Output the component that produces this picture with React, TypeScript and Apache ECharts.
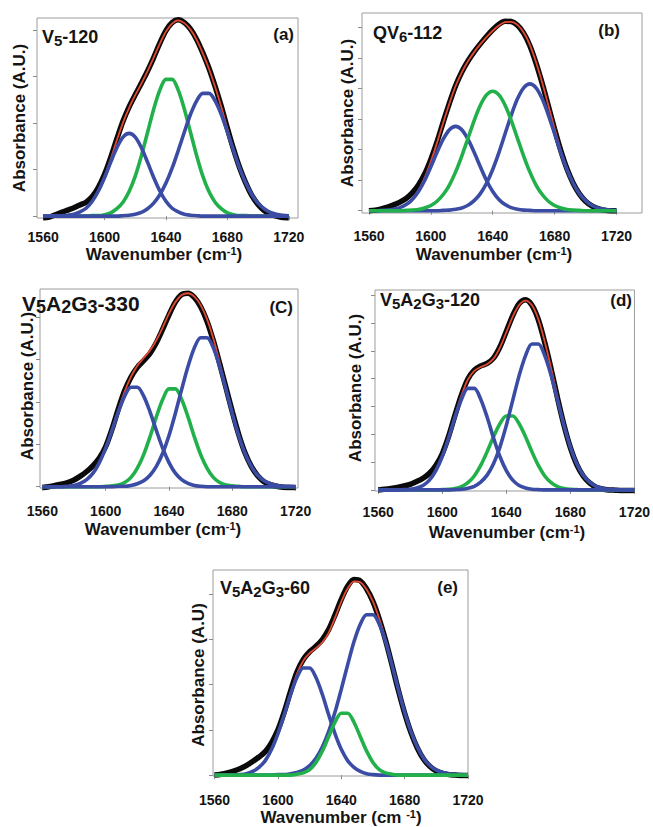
import React, { useEffect, useRef } from "react";
import * as echarts from "echarts";

const WAVENUMBER = [
  1560, 1564, 1568, 1572, 1576, 1580, 1584, 1588, 1592, 1596, 1600, 1604, 1608, 1612,
  1616, 1620, 1624, 1628, 1632, 1636, 1640, 1644, 1648, 1652, 1656, 1660, 1664, 1668,
  1672, 1676, 1680, 1684, 1688, 1692, 1696, 1700, 1704, 1708, 1712, 1716, 1720,
];
const X_TICKS = [1560, 1600, 1640, 1680, 1720];
const Y_TICKS_4 = [0, 1, 2, 3, 4];
const Y_TICKS_6 = [0, 1, 2, 3, 4, 5, 6];
const Y_TICKS_7 = [0, 1, 2, 3, 4, 5, 6, 7];

// (a) V5-120
const A_DATA = [-0.04,-0.02,0.03,0.08,0.13,0.18,0.24,0.30,0.42,0.62,0.90,1.26,1.66,2.04,2.35,2.61,2.86,3.12,3.41,3.72,3.99,4.16,4.22,4.16,4.02,3.80,3.51,3.18,2.79,2.36,1.89,1.44,1.04,0.71,0.44,0.25,0.12,0.04,0.00,-0.03,-0.04];
const A_FIT = [0,0,0,0.01,0.02,0.04,0.09,0.17,0.33,0.55,0.86,1.23,1.63,2.01,2.33,2.60,2.85,3.12,3.41,3.71,3.97,4.14,4.21,4.15,4.01,3.79,3.50,3.17,2.78,2.35,1.88,1.44,1.04,0.72,0.46,0.28,0.16,0.08,0.04,0.02,0.01];
const A_BAND1 = [0,0,0,0.01,0.02,0.04,0.09,0.17,0.32,0.54,0.83,1.16,1.47,1.70,1.78,1.70,1.47,1.16,0.83,0.54,0.32,0.17,0.09,0.04,0.02,0.01,0,0,0,0,0,0,0,0,0,0,0,0,0,0,0];
const A_BAND2 = [0,0,0,0,0,0,0,0,0.01,0.01,0.03,0.07,0.16,0.30,0.53,0.86,1.30,1.80,2.30,2.71,2.94,2.94,2.71,2.30,1.80,1.30,0.86,0.53,0.30,0.16,0.07,0.03,0.01,0.01,0,0,0,0,0,0,0];
const A_BAND3 = [0,0,0,0,0,0,0,0,0,0,0,0,0,0.01,0.02,0.04,0.08,0.16,0.28,0.46,0.71,1.03,1.41,1.81,2.19,2.48,2.64,2.64,2.48,2.19,1.81,1.41,1.03,0.71,0.46,0.28,0.16,0.08,0.04,0.02,0.01];

// (b) QV6-112
const B_DATA = [0.00,0.02,0.06,0.12,0.19,0.28,0.40,0.58,0.84,1.20,1.68,2.25,2.90,3.52,4.09,4.54,4.90,5.20,5.46,5.70,5.92,6.10,6.20,6.19,6.07,5.81,5.40,4.83,4.16,3.42,2.67,1.97,1.37,0.90,0.55,0.31,0.16,0.07,0.02,0.00,0.00];
const B_FIT = [0,0,0.01,0.02,0.05,0.10,0.21,0.39,0.67,1.08,1.61,2.22,2.88,3.51,4.08,4.53,4.89,5.19,5.45,5.68,5.89,6.06,6.17,6.18,6.08,5.83,5.43,4.86,4.19,3.44,2.69,1.99,1.39,0.92,0.57,0.33,0.18,0.09,0.05,0.02,0.01];
const B_BAND1 = [0,0,0.01,0.02,0.05,0.10,0.20,0.37,0.63,0.99,1.44,1.91,2.34,2.65,2.76,2.65,2.34,1.91,1.44,0.99,0.63,0.37,0.20,0.10,0.05,0.02,0.01,0,0,0,0,0,0,0,0,0,0,0,0,0,0];
const B_BAND2 = [0,0,0,0,0,0,0.01,0.02,0.04,0.09,0.17,0.31,0.53,0.84,1.27,1.79,2.37,2.95,3.45,3.79,3.91,3.79,3.45,2.95,2.37,1.79,1.27,0.84,0.53,0.31,0.17,0.09,0.04,0.02,0.01,0,0,0,0,0,0];
const B_BAND3 = [0,0,0,0,0,0,0,0,0,0,0,0,0.01,0.02,0.05,0.09,0.18,0.33,0.56,0.90,1.35,1.90,2.52,3.13,3.66,4.02,4.15,4.02,3.66,3.13,2.52,1.90,1.35,0.90,0.56,0.33,0.18,0.09,0.05,0.02,0.01];

// (c) V5A2G3-330
const C_DATA = [-0.02,0.00,0.03,0.06,0.10,0.16,0.25,0.36,0.50,0.68,0.95,1.36,1.84,2.27,2.59,2.82,2.98,3.15,3.40,3.72,4.06,4.36,4.54,4.57,4.47,4.25,3.91,3.45,2.91,2.34,1.77,1.24,0.80,0.48,0.26,0.12,0.05,0.01,-0.01,-0.02,-0.02];
const C_FIT = [0,0,0,0,0.01,0.03,0.08,0.17,0.32,0.57,0.92,1.35,1.82,2.25,2.60,2.86,3.04,3.22,3.46,3.76,4.09,4.36,4.53,4.57,4.49,4.29,3.96,3.50,2.94,2.34,1.75,1.22,0.79,0.48,0.27,0.14,0.07,0.03,0.01,0.01,0];
const C_BAND1 = [0,0,0,0,0.01,0.03,0.08,0.17,0.32,0.57,0.91,1.33,1.77,2.14,2.35,2.35,2.14,1.77,1.33,0.91,0.57,0.32,0.17,0.08,0.03,0.01,0,0,0,0,0,0,0,0,0,0,0,0,0,0,0];
const C_BAND2 = [0,0,0,0,0,0,0,0,0,0,0.01,0.02,0.04,0.10,0.22,0.44,0.76,1.18,1.65,2.06,2.31,2.31,2.06,1.65,1.18,0.76,0.44,0.22,0.10,0.04,0.02,0.01,0,0,0,0,0,0,0,0,0];
const C_BAND3 = [0,0,0,0,0,0,0,0,0,0,0,0,0.01,0.01,0.03,0.07,0.14,0.27,0.48,0.79,1.21,1.73,2.30,2.84,3.28,3.52,3.52,3.28,2.84,2.30,1.73,1.21,0.79,0.48,0.27,0.14,0.07,0.03,0.01,0.01,0];

// (d) V5A2G3-120
const D_DATA = [0,0.02,0.05,0.09,0.14,0.20,0.30,0.42,0.60,0.88,1.30,1.93,2.70,3.42,3.99,4.31,4.46,4.55,4.74,5.14,5.70,6.27,6.70,6.84,6.64,6.12,5.30,4.34,3.30,2.33,1.52,0.91,0.50,0.25,0.10,0.03,0.00,-0.01,-0.02,-0.02,-0.02];
const D_FIT = [0,0,0,0,0.01,0.02,0.07,0.16,0.35,0.69,1.21,1.89,2.68,3.40,3.97,4.28,4.42,4.52,4.72,5.12,5.67,6.23,6.65,6.81,6.64,6.14,5.33,4.37,3.34,2.37,1.56,0.95,0.53,0.28,0.13,0.06,0.02,0.01,0,0,0];
const D_BAND1 = [0,0,0,0,0.01,0.02,0.07,0.16,0.35,0.69,1.20,1.87,2.62,3.26,3.65,3.65,3.26,2.62,1.87,1.20,0.69,0.35,0.16,0.07,0.02,0.01,0,0,0,0,0,0,0,0,0,0,0,0,0,0,0];
const D_BAND2 = [0,0,0,0,0,0,0,0,0,0,0.01,0.02,0.05,0.12,0.26,0.50,0.88,1.37,1.91,2.38,2.66,2.66,2.38,1.91,1.37,0.88,0.50,0.26,0.12,0.05,0.02,0.01,0,0,0,0,0,0,0,0,0];
const D_BAND3 = [0,0,0,0,0,0,0,0,0,0,0,0,0.01,0.02,0.06,0.13,0.28,0.53,0.94,1.54,2.32,3.22,4.11,4.83,5.25,5.25,4.83,4.11,3.22,2.32,1.54,0.94,0.53,0.28,0.13,0.06,0.02,0.01,0,0,0];

// (e) V5A2G3-60
const E_DATA = [0,0.02,0.05,0.09,0.14,0.21,0.30,0.40,0.52,0.72,1.00,1.40,1.86,2.28,2.56,2.73,2.85,3.00,3.22,3.54,3.89,4.18,4.33,4.30,4.12,3.84,3.45,2.98,2.44,1.88,1.37,0.94,0.60,0.35,0.19,0.09,0.04,0.01,0,-0.01,-0.01];
const E_FIT = [0,0,0,0,0.01,0.03,0.08,0.17,0.32,0.57,0.93,1.35,1.82,2.24,2.53,2.70,2.81,2.94,3.15,3.48,3.84,4.13,4.29,4.27,4.11,3.84,3.46,3.00,2.46,1.90,1.39,0.96,0.62,0.37,0.21,0.11,0.06,0.03,0.01,0.01,0];
const E_BAND1 = [0,0,0,0,0.01,0.03,0.08,0.17,0.32,0.57,0.92,1.34,1.79,2.16,2.37,2.37,2.16,1.79,1.34,0.92,0.57,0.32,0.17,0.08,0.03,0.01,0,0,0,0,0,0,0,0,0,0,0,0,0,0,0];
const E_BAND2 = [0,0,0,0,0,0,0,0,0,0,0,0,0,0.02,0.05,0.12,0.28,0.53,0.85,1.17,1.37,1.37,1.17,0.85,0.53,0.28,0.12,0.05,0.02,0,0,0,0,0,0,0,0,0,0,0,0];
const E_BAND3 = [0,0,0,0,0,0,0,0,0,0,0.01,0.01,0.03,0.06,0.11,0.21,0.37,0.62,0.96,1.39,1.90,2.44,2.95,3.34,3.55,3.55,3.34,2.95,2.44,1.90,1.39,0.96,0.62,0.37,0.21,0.11,0.06,0.03,0.01,0.01,0];

const GREEN_BANDS = [A_BAND2, B_BAND2, C_BAND2, D_BAND2, E_BAND2];

const FONT = '"Liberation Sans", Arial, Helvetica, sans-serif';
const BLACK = "#0a0a0a";
const RED = "#e24a33";
const BLUE = "#3a4ca4";
const GREEN = "#22b04b";
const FRAME = "#9c9c9c";
const TEXT = "#141414";

type Panel = {
  data: number[];
  fit: number[];
  bands: number[][];
  grid: { left: number; top: number; width: number; height: number };
  x: [number, number];
  y: [number, number];
  yTicks: number[];
  labelMargin: number;
  title: string;
  titleX: number;
  titleY: number;
  titleSize: number;
  tag: string;
  tagX: number;
  tagY: number;
  xName: string;
  xNameX: number;
  xNameY: number;
  yName: string;
  yNameX: number;
  yNameY: number;
};

const PANELS: Panel[] = [
  {
    data: A_DATA, fit: A_FIT, bands: [A_BAND2, A_BAND1, A_BAND3],
    grid: { left: 37, top: 18, width: 261, height: 200 }, x: [1556, 1726], y: [-0.04, 4.26],
    yTicks: Y_TICKS_4, labelMargin: 12,
    title: "{m|V}{s|5}{m|-120}", titleX: 42, titleY: 37, titleSize: 18,
    tag: "(a)", tagX: 294, tagY: 34,
    xName: "{m|Wavenumber (cm}{p|-1}{m|)}", xNameX: 164, xNameY: 254,
    yName: "Absorbance (A.U.)", yNameX: 19, yNameY: 118,
  },
  {
    data: B_DATA, fit: B_FIT, bands: [B_BAND1, B_BAND3, B_BAND2],
    grid: { left: 362, top: 13, width: 280, height: 200 }, x: [1555.5, 1736.5], y: [-0.075, 6.47],
    yTicks: Y_TICKS_6, labelMargin: 16,
    title: "{m|QV}{s|6}{m|-112}", titleX: 373, titleY: 33, titleSize: 18,
    tag: "(b)", tagX: 620, tagY: 30,
    xName: "{m|Wavenumber (cm}{p|-1}{m|)}", xNameX: 494, xNameY: 254,
    yName: "Absorbance (A.U.)", yNameX: 347, yNameY: 113,
  },
  {
    data: C_DATA, fit: C_FIT, bands: [C_BAND2, C_BAND1, C_BAND3],
    grid: { left: 40, top: 289, width: 258, height: 199 }, x: [1558.5, 1721.5], y: [-0.03, 4.67],
    yTicks: Y_TICKS_4, labelMargin: 16,
    title: "{m|V}{s|5}{m|A}{s|2}{m|G}{s|3}{m|-330}", titleX: 22, titleY: 303, titleSize: 21,
    tag: "(C)", tagX: 293, tagY: 307,
    xName: "{m|Wavenumber (cm}{p|-1}{m|)}", xNameX: 163, xNameY: 529,
    yName: "Absorbance (A.U.)", yNameX: 27, yNameY: 386,
  },
  {
    data: D_DATA, fit: D_FIT, bands: [D_BAND2, D_BAND1, D_BAND3],
    grid: { left: 375, top: 290, width: 262, height: 201 }, x: [1558, 1720], y: [-0.04, 7.19],
    yTicks: Y_TICKS_7, labelMargin: 14,
    title: "{m|V}{s|5}{m|A}{s|2}{m|G}{s|3}{m|-120}", titleX: 380, titleY: 300, titleSize: 18,
    tag: "(d)", tagX: 632, tagY: 300,
    xName: "{m|Wavenumber (cm}{p|-1}{m|)}", xNameX: 507, xNameY: 532,
    yName: "Absorbance (A.U.)", yNameX: 355, yNameY: 388,
  },
  {
    data: E_DATA, fit: E_FIT, bands: [E_BAND1, E_BAND3, E_BAND2],
    grid: { left: 213, top: 570, width: 255, height: 206 }, x: [1559, 1720], y: [-0.02, 4.54],
    yTicks: Y_TICKS_4, labelMargin: 17,
    title: "{m|V}{s|5}{m|A}{s|2}{m|G}{s|3}{m|-60}", titleX: 220, titleY: 588, titleSize: 18,
    tag: "(e)", tagX: 458, tagY: 587,
    xName: "{m|Wavenumber (cm }{p|-1}{m|)}", xNameX: 341, xNameY: 817,
    yName: "Absorbance (A.U)", yNameX: 198, yNameY: 675,
  },
];

export default function App() {
  const ref = useRef<HTMLDivElement>(null);

  useEffect(() => {
    document.body.style.margin = "0";
    if (!ref.current) return;
    const chart = echarts.init(ref.current, undefined, { renderer: "svg" });

    const grids: any[] = [];
    const xAxes: any[] = [];
    const yAxes: any[] = [];
    const series: any[] = [];
    const graphics: any[] = [];

    PANELS.forEach((p, k) => {
      grids.push({
        left: p.grid.left, top: p.grid.top, width: p.grid.width, height: p.grid.height,
        show: true, borderColor: FRAME, borderWidth: 1, backgroundColor: "transparent",
      });
      xAxes.push({
        type: "value", gridIndex: k, min: p.x[0], max: p.x[1],
        axisLine: { show: false }, splitLine: { show: false },
        axisTick: { show: true, inside: false, length: 4, customValues: X_TICKS, lineStyle: { color: "#8a8a8a" } },
        axisLabel: {
          customValues: X_TICKS, margin: p.labelMargin, fontSize: 14, fontWeight: 700,
          fontFamily: FONT, color: TEXT, lineHeight: 14, formatter: (v: number) => String(Math.round(v)),
        },
      });
      yAxes.push({
        type: "value", gridIndex: k, min: p.y[0], max: p.y[1],
        axisLine: { show: false }, splitLine: { show: false },
        axisLabel: { show: false },
        axisTick: { show: true, inside: false, length: 4, customValues: p.yTicks, lineStyle: { color: "#8a8a8a" } },
      });

      const pts = (arr: number[]) => WAVENUMBER.map((w, i) => [w, arr[i]]);
      const base = {
        type: "line", xAxisIndex: k, yAxisIndex: k, showSymbol: false, symbol: "none",
        smooth: 0.3, silent: true, clip: true,
      };
      series.push({ ...base, name: "data", data: pts(p.data), lineStyle: { color: BLACK, width: 5.5 }, z: 2 });
      series.push({ ...base, name: "fit", data: pts(p.fit), lineStyle: { color: RED, width: 1.8 }, z: 3 });
      p.bands.forEach((b, j) => {
        const isGreen = GREEN_BANDS.indexOf(b) >= 0;
        series.push({
          ...base, name: isGreen ? "band green" : "band blue", data: pts(b),
          lineStyle: { color: isGreen ? GREEN : BLUE, width: 3.6 }, z: 4 + j,
        });
      });

      graphics.push({
        type: "text", x: p.titleX, y: p.titleY, z: 50,
        style: {
          text: p.title, fill: TEXT, textAlign: "left", textVerticalAlign: "middle",
          rich: {
            m: { fontSize: p.titleSize, fontWeight: "bold", fontFamily: FONT, lineHeight: p.titleSize + 4, fill: TEXT },
            s: { fontSize: p.titleSize - 3, fontWeight: "bold", fontFamily: FONT, lineHeight: 12, verticalAlign: "bottom", fill: TEXT },
          },
        },
      });
      graphics.push({
        type: "text", x: p.tagX, y: p.tagY, z: 50,
        style: {
          text: p.tag, fill: TEXT, textAlign: "right", textVerticalAlign: "middle",
          fontSize: 17, fontWeight: "bold", fontFamily: FONT,
        },
      });
      graphics.push({
        type: "text", x: p.xNameX, y: p.xNameY, z: 50,
        style: {
          text: p.xName, fill: TEXT, textAlign: "center", textVerticalAlign: "middle",
          rich: {
            m: { fontSize: 17, fontWeight: "bold", fontFamily: FONT, lineHeight: 17, fill: TEXT },
            p: { fontSize: 11, fontWeight: "bold", fontFamily: FONT, lineHeight: 9, verticalAlign: "top", fill: TEXT },
          },
        },
      });
      graphics.push({
        type: "text", x: p.yNameX, y: p.yNameY, rotation: Math.PI / 2, z: 50,
        style: {
          text: p.yName, fill: TEXT, textAlign: "center", textVerticalAlign: "middle",
          fontSize: 17, fontWeight: "bold", fontFamily: FONT,
        },
      });
    });

    chart.setOption({
      animation: false,
      backgroundColor: "#ffffff",
      grid: grids,
      xAxis: xAxes,
      yAxis: yAxes,
      series,
      graphic: graphics,
    });

    return () => chart.dispose();
  }, []);

  return <div ref={ref} style={{ width: 653, height: 827 }} />;
}
